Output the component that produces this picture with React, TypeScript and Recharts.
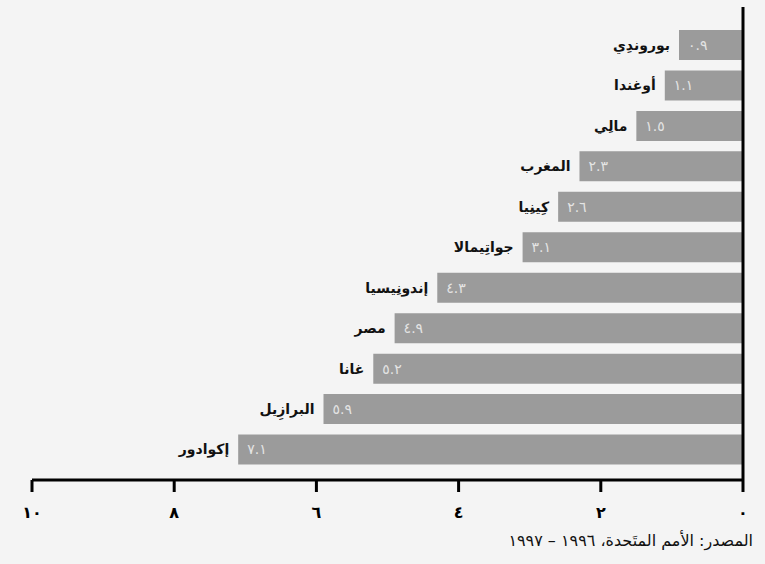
import { BarChart, Bar, XAxis, YAxis, LabelList } from "recharts";

// Poverty-related rates by country (Arabic labels), top to bottom
const countries = [
  "بوروندِي",
  "أوغندا",
  "مالِي",
  "المغرب",
  "كِينِيا",
  "جواتِيمالا",
  "إندونِيسيا",
  "مصر",
  "غانا",
  "البرازِيل",
  "إكوادور",
];
const rates = [0.9, 1.1, 1.5, 2.3, 2.6, 3.1, 4.3, 4.9, 5.2, 5.9, 7.1];
const xTicks = [0, 2, 4, 6, 8, 10];
const sourceNote = "المصدر: الأمم المتَحدة، ١٩٩٦ – ١٩٩٧";

const ARABIC_DIGITS = "٠١٢٣٤٥٦٧٨٩";
const toArabic = (s: string) => s.replace(/[0-9]/g, (d) => ARABIC_DIGITS[+d]);

const data = countries.map((name, i) => ({ name, rate: rates[i] }));

const FONT = "'DejaVu Sans', sans-serif";

function ValueLabel(props: any) {
  const { x, y, width, height, value } = props;
  const left = Math.min(x, x + width);
  return (
    <text
      x={left + 9}
      y={y + height / 2}
      dy="0.35em"
      textAnchor="start"
      fill="#e4e4e4"
      fontFamily={FONT}
      fontSize={14}
    >
      {toArabic(Number(value).toFixed(1))}
    </text>
  );
}

function NameLabel(props: any) {
  const { x, y, width, height, value } = props;
  const left = Math.min(x, x + width);
  return (
    <text
      x={left - 9}
      y={y + height / 2}
      dy="0.35em"
      textAnchor="end"
      fill="#111"
      fontFamily={FONT}
      fontWeight="bold"
      fontSize={14}
    >
      {value}
    </text>
  );
}

export default function App() {
  return (
    <div
      style={{
        position: "absolute",
        left: 0,
        top: 0,
        width: 765,
        height: 564,
        background: "#f4f4f4",
        overflow: "hidden",
      }}
    >
      <BarChart
        width={765}
        height={564}
        data={data}
        layout="vertical"
        margin={{ top: 7, right: 21, left: 32, bottom: 54 }}
      >
        <XAxis
          type="number"
          domain={[0, 10]}
          ticks={xTicks}
          reversed
          height={30}
          axisLine={{ stroke: "#000", strokeWidth: 3 }}
          tickLine={{ stroke: "#000", strokeWidth: 3 }}
          tickSize={12}
          tickMargin={15}
          tickFormatter={(v: number) => toArabic(String(v))}
          tick={{ fill: "#000", fontFamily: FONT, fontWeight: "bold", fontSize: 16 }}
        />
        <YAxis
          type="category"
          dataKey="name"
          orientation="right"
          width={1}
          tick={false}
          tickLine={false}
          axisLine={{ stroke: "#000", strokeWidth: 3 }}
          padding={{ top: 18, bottom: 10 }}
        />
        <Bar dataKey="rate" fill="#9b9b9b" barSize={30} isAnimationActive={false}>
          <LabelList dataKey="rate" content={<ValueLabel />} />
          <LabelList dataKey="name" content={<NameLabel />} />
        </Bar>
      </BarChart>
      <div
        dir="rtl"
        style={{
          position: "absolute",
          right: 12,
          top: 531,
          fontFamily: FONT,
          fontSize: 16,
          color: "#111",
          whiteSpace: "nowrap",
        }}
      >
        {sourceNote}
      </div>
    </div>
  );
}
